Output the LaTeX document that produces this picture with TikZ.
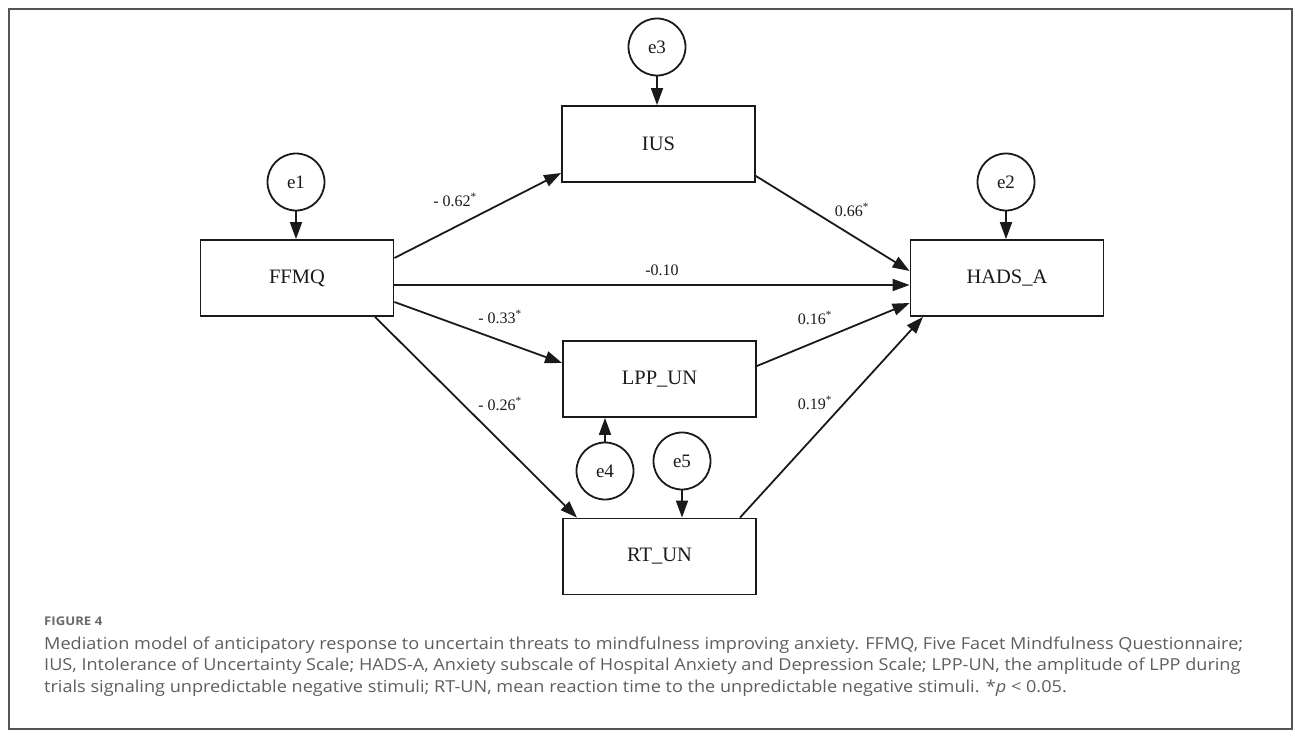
\documentclass[tikz,border=0pt]{standalone}
\usepackage{fontspec}
\usepackage{graphicx}
\setmainfont{Liberation Serif}
\newfontfamily\capfont{Open Sans}
\usetikzlibrary{calc,arrows.meta}
\definecolor{ink}{HTML}{1A1A1A}
\definecolor{framegray}{HTML}{555555}
\definecolor{capgray}{HTML}{5E5E5E}
\definecolor{figgray}{HTML}{6A6A6A}
\newcommand{\capsize}{\capfont\fontsize{16.5}{20}\selectfont}
\newcommand{\capA}{Mediation model of anticipatory response to uncertain threats to mindfulness improving anxiety. FFMQ, Five Facet Mindfulness Questionnaire;}
\newlength{\capw}
\tikzset{
  varbox/.style={draw=ink, line width=1.8pt, minimum width=193pt, minimum height=76pt, inner sep=0pt, font=\fontsize{20.5}{24}\selectfont, text=ink},
  errc/.style={draw=ink, circle, line width=1.8pt, minimum size=57pt, inner sep=0pt, font=\fontsize{19}{22}\selectfont, text=ink},
  path/.style={draw=ink, line width=1.8pt, -{Triangle[length=17pt,width=12pt]}},
  coef/.style={font=\fontsize{16}{19}\selectfont, text=ink, inner sep=0pt},
  caption/.style={font=\capsize, text=capgray, anchor=west, inner sep=0pt},
}
\begin{document}
\settowidth{\capw}{\capsize\capA}%
\pgfmathsetmacro{\capx}{1199/\capw}%
\begin{tikzpicture}[x=1pt,y=-1pt]
\useasboundingbox (0,0) rectangle (1295,736);
\draw[framegray, line width=2pt] (9,9) rectangle (1292,729);

% boxes
\node[varbox] (FFMQ) at (297,278) {FFMQ};
\node[varbox] (IUS) at (658.5,144) {IUS};
\node[varbox] (HADS) at (1007,278) {HADS\_A};
\node[varbox] (LPP) at (659.5,379) {LPP\_UN};
\node[varbox] (RT) at (659.5,556.5) {RT\_UN};

% error terms
\node[errc] (e3) at (657,47) {e3};
\node[errc] (e1) at (296,182) {e1};
\node[errc] (e2) at (1006,182) {e2};
\node[errc] (e4) at (605,471) {e4};
\node[errc] (e5) at (682,461) {e5};

% error arrows
\draw[path] (e3.south) -- (e3.south |- IUS.north);
\draw[path] (e1.south) -- (e1.south |- FFMQ.north);
\draw[path] (e2.south) -- (e2.south |- HADS.north);
\draw[path] (e4.north) -- (e4.north |- LPP.south);
\draw[path] (e5.south) -- (e5.south |- RT.north);

% structural paths
\draw[path] ($(FFMQ.east)+(0,-20)$) -- ($(IUS.west)+(0,29)$);
\draw[path] ($(FFMQ.east)+(0,7)$) -- ($(HADS.west)+(0,7)$);
\draw[path] ($(FFMQ.east)+(0,24)$) -- ($(LPP.west)+(0,-16)$);
\draw[path] ($(FFMQ.south)+(78,0)$) -- ($(RT.north)+(-82.5,0)$);
\draw[path] ($(IUS.east)+(0,32)$) -- ($(HADS.west)+(0,-7)$);
\draw[path] ($(LPP.east)+(0,-13)$) -- ($(HADS.west)+(0,25)$);
\draw[path] ($(RT.north)+(80.5,0)$) -- ($(HADS.south)+(-84,0)$);

% coefficients
\node[coef] (c1) at (455,200) {- 0.62\textsuperscript{*}};
\node[coef] (c2) at (852,210) {0.66\textsuperscript{*}};
\node[coef] (c3) at (662,270) {-0.10};
\node[coef] (c4) at (500,317) {- 0.33\textsuperscript{*}};
\node[coef] (c5) at (815,318) {0.16\textsuperscript{*}};
\node[coef] (c6) at (500,404) {- 0.26\textsuperscript{*}};
\node[coef] (c7) at (815,403) {0.19\textsuperscript{*}};

% caption (stretched horizontally so the first line spans 44..1243)
\node[caption, font=\capfont\bfseries\fontsize{12}{14}\selectfont, text=figgray] (fig) at (44,621) {\scalebox{\capx}[1]{FIGURE 4}};
\node[caption] (cap1) at (44,645) {\scalebox{\capx}[1]{\capA}};
\node[caption] (cap2) at (44,666.5) {\scalebox{\capx}[1]{IUS, Intolerance of Uncertainty Scale; HADS-A, Anxiety subscale of Hospital Anxiety and Depression Scale; LPP-UN, the amplitude of LPP during}};
\node[caption] (cap3) at (44,688) {\scalebox{\capx}[1]{trials signaling unpredictable negative stimuli; RT-UN, mean reaction time to the unpredictable negative stimuli. *\textit{p} < 0.05.}};
\end{tikzpicture}
\end{document}
